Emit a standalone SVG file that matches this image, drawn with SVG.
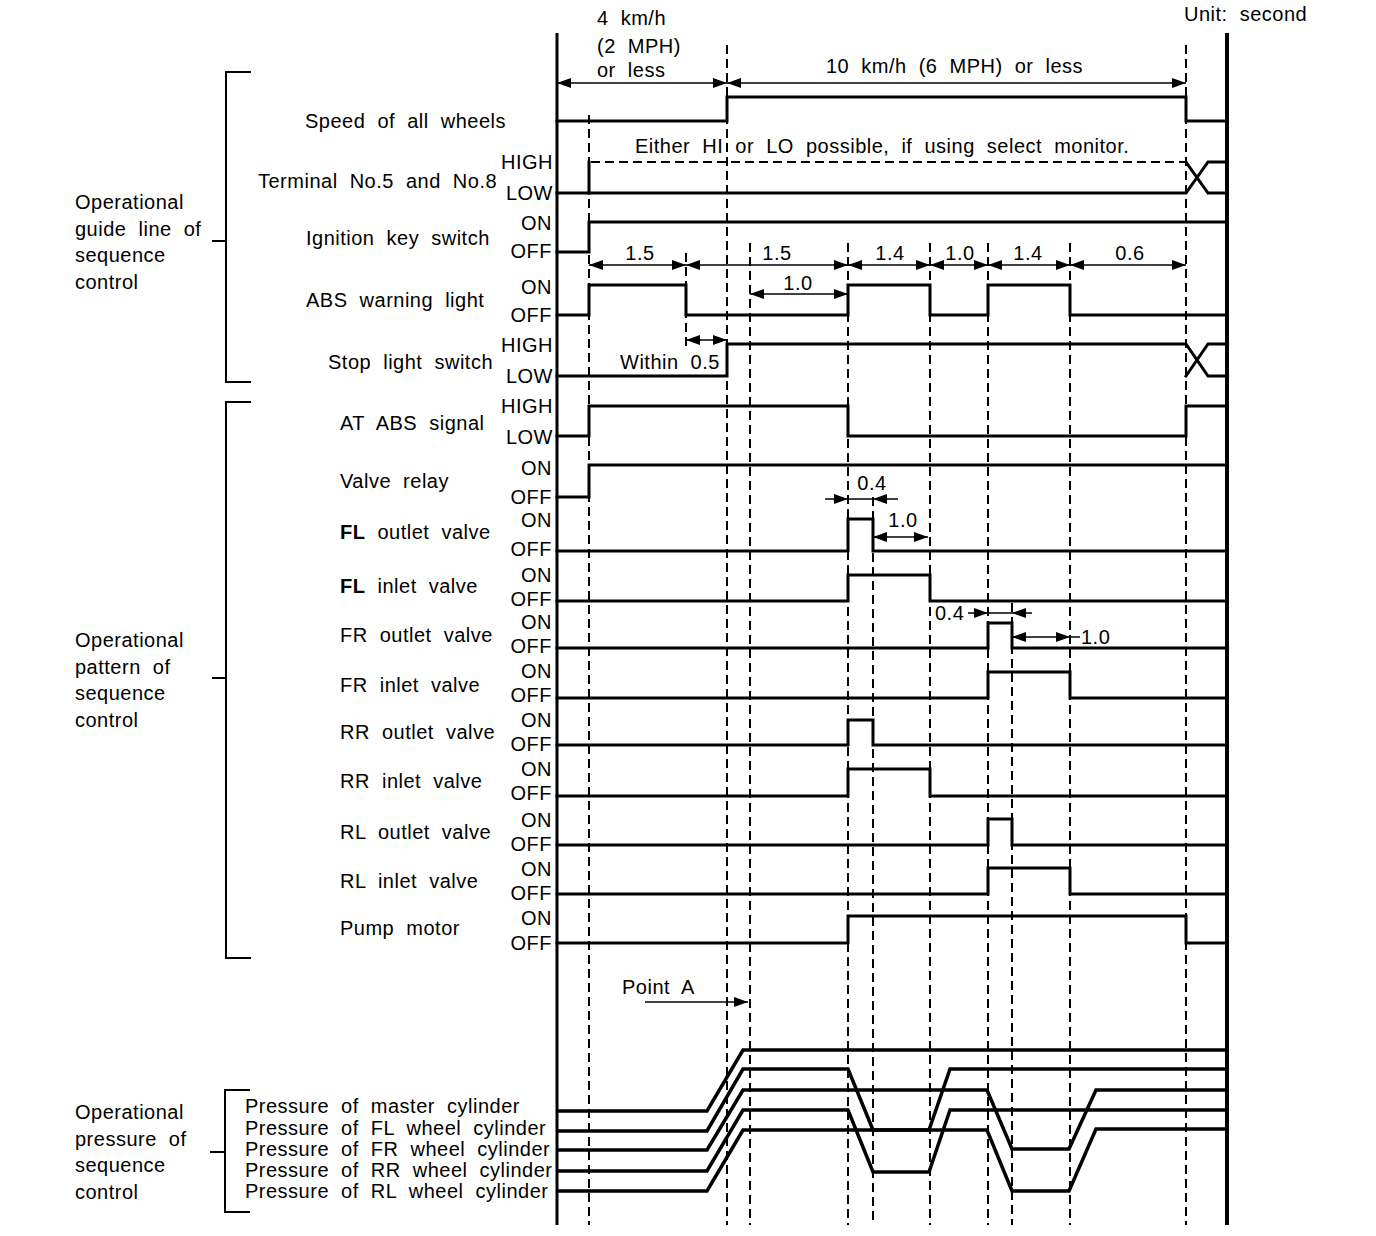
<svg xmlns="http://www.w3.org/2000/svg" width="1376" height="1236" viewBox="0 0 1376 1236">
<style>
.t{font-family:"Liberation Sans",Arial,Helvetica,sans-serif;font-size:20px;letter-spacing:0.5px;word-spacing:6px;fill:#000}
.e{text-anchor:end}
.b{font-weight:bold}
.sig{fill:none;stroke:#000;stroke-width:3;stroke-linejoin:miter;stroke-linecap:square}
.prs{fill:none;stroke:#000;stroke-width:3.5;stroke-linejoin:miter}
.dash{fill:none;stroke:#000;stroke-width:2;stroke-dasharray:9 5}
.dim{fill:none;stroke:#000;stroke-width:1.5}
.brk{fill:none;stroke:#000;stroke-width:2}
.axis{fill:none;stroke:#000}
</style>
<defs>
<marker id="ah" viewBox="0 0 14 10" refX="14" refY="5" markerWidth="14" markerHeight="10" markerUnits="userSpaceOnUse" orient="auto-start-reverse">
<path d="M0,0 L14,5 L0,10 z" fill="#000"/>
</marker>
</defs>
<rect width="1376" height="1236" fill="#fff"/>

<g id="frame">
<line class="axis" x1="557" y1="33" x2="557" y2="1225" stroke-width="3"/>
<line class="axis" x1="1227" y1="33" x2="1227" y2="1225" stroke-width="4"/>
<line class="dash" x1="589" y1="115" x2="589" y2="1225"/>
<line class="dash" x1="727" y1="45" x2="727" y2="1225"/>
<line class="dash" x1="750" y1="243" x2="750" y2="1225"/>
<line class="dash" x1="848" y1="243" x2="848" y2="1225"/>
<line class="dash" x1="873" y1="497" x2="873" y2="1225"/>
<line class="dash" x1="930" y1="243" x2="930" y2="1225"/>
<line class="dash" x1="988" y1="243" x2="988" y2="1225"/>
<line class="dash" x1="1012" y1="603" x2="1012" y2="1225"/>
<line class="dash" x1="1070" y1="243" x2="1070" y2="1225"/>
<line class="dash" x1="1186" y1="45" x2="1186" y2="1225"/>
<line class="dash" x1="686" y1="253" x2="686" y2="350"/>
<text class="t" x="1184" y="21">Unit: second</text>
</g>

<g id="group-guide">
<path class="brk" d="M251,72 H226 V382 H251 M212,241 H226"/>
<text class="t" x="75" y="209">Operational</text>
<text class="t" x="75" y="236">guide line of</text>
<text class="t" x="75" y="262">sequence</text>
<text class="t" x="75" y="289">control</text>
</g>

<g id="group-pattern">
<path class="brk" d="M251,402 H226 V958 H251 M212,678 H226"/>
<text class="t" x="75" y="647">Operational</text>
<text class="t" x="75" y="674">pattern of</text>
<text class="t" x="75" y="700">sequence</text>
<text class="t" x="75" y="727">control</text>
</g>

<g id="group-pressure">
<path class="brk" d="M250,1090 H225 V1212 H250 M210,1152 H225"/>
<text class="t" x="75" y="1119">Operational</text>
<text class="t" x="75" y="1146">pressure of</text>
<text class="t" x="75" y="1172">sequence</text>
<text class="t" x="75" y="1199">control</text>
</g>

<g id="speed">
<text class="t" x="305" y="128">Speed of all wheels</text>
<path class="sig" d="M557,121 H727 V97 H1186 V121 H1227"/>
<text class="t" x="597" y="25">4 km/h</text>
<text class="t" x="597" y="53">(2 MPH)</text>
<text class="t" x="597" y="77">or less</text>
<text class="t" x="826" y="73">10 km/h (6 MPH) or less</text>
</g>

<g id="terminal">
<text class="t" x="258" y="188">Terminal No.5 and No.8</text>
<text class="t e" x="553" y="169">HIGH</text>
<text class="t e" x="553" y="200">LOW</text>
<path class="sig" d="M557,193 H1186 L1208,162 H1227"/>
<path class="sig" d="M589,193 V162"/>
<path class="sig" d="M1186,162 L1208,193 H1227"/>
<line class="dash" x1="591" y1="162" x2="1186" y2="162"/>
<text class="t" x="635" y="153">Either HI or LO possible, if using select monitor.</text>
</g>

<g id="ignition">
<text class="t" x="306" y="245">Ignition key switch</text>
<text class="t e" x="552" y="230">ON</text>
<text class="t e" x="552" y="258">OFF</text>
<path class="sig" d="M557,252 H589 V222 H1227"/>
</g>

<g id="abs-warning">
<text class="t" x="306" y="307">ABS warning light</text>
<text class="t e" x="552" y="294">ON</text>
<text class="t e" x="552" y="322">OFF</text>
<path class="sig" d="M557,315 H589 V285 H686 V315 H848 V285 H930 V315 H988 V285 H1070 V315 H1227"/>
</g>

<g id="stop-light">
<text class="t" x="328" y="369">Stop light switch</text>
<text class="t e" x="553" y="352">HIGH</text>
<text class="t e" x="553" y="383">LOW</text>
<path class="sig" d="M557,376 H727 V344 H1186 L1208,376 H1227"/>
<path class="sig" d="M1186,376 L1208,344 H1227"/>
</g>

<g id="at-abs">
<text class="t" x="340" y="430">AT ABS signal</text>
<text class="t e" x="553" y="413">HIGH</text>
<text class="t e" x="553" y="444">LOW</text>
<path class="sig" d="M557,436 H589 V406 H848 V436 H1186 V406 H1227"/>
</g>

<g id="valve-relay">
<text class="t" x="340" y="488">Valve relay</text>
<text class="t e" x="552" y="475">ON</text>
<text class="t e" x="552" y="504">OFF</text>
<path class="sig" d="M557,497 H589 V465 H1227"/>
</g>

<g id="fl-outlet">
<text class="t" x="340" y="539"><tspan class="b">FL</tspan> outlet valve</text>
<text class="t e" x="552" y="527">ON</text>
<text class="t e" x="552" y="556">OFF</text>
<path class="sig" d="M557,551 H848 V519 H873 V551 H1227"/>
</g>

<g id="fl-inlet">
<text class="t" x="340" y="593"><tspan class="b">FL</tspan> inlet valve</text>
<text class="t e" x="552" y="582">ON</text>
<text class="t e" x="552" y="606">OFF</text>
<path class="sig" d="M557,601 H848 V575 H930 V601 H1227"/>
</g>

<g id="fr-outlet">
<text class="t" x="340" y="642">FR outlet valve</text>
<text class="t e" x="552" y="629">ON</text>
<text class="t e" x="552" y="653">OFF</text>
<path class="sig" d="M557,648 H988 V623 H1012 V648 H1227"/>
</g>

<g id="fr-inlet">
<text class="t" x="340" y="692">FR inlet valve</text>
<text class="t e" x="552" y="678">ON</text>
<text class="t e" x="552" y="702">OFF</text>
<path class="sig" d="M557,698 H988 V672 H1070 V698 H1227"/>
</g>

<g id="rr-outlet">
<text class="t" x="340" y="739">RR outlet valve</text>
<text class="t e" x="552" y="727">ON</text>
<text class="t e" x="552" y="751">OFF</text>
<path class="sig" d="M557,745 H848 V720 H873 V745 H1227"/>
</g>

<g id="rr-inlet">
<text class="t" x="340" y="788">RR inlet valve</text>
<text class="t e" x="552" y="776">ON</text>
<text class="t e" x="552" y="800">OFF</text>
<path class="sig" d="M557,796 H848 V769 H930 V796 H1227"/>
</g>

<g id="rl-outlet">
<text class="t" x="340" y="839">RL outlet valve</text>
<text class="t e" x="552" y="827">ON</text>
<text class="t e" x="552" y="851">OFF</text>
<path class="sig" d="M557,845 H988 V819 H1012 V845 H1227"/>
</g>

<g id="rl-inlet">
<text class="t" x="340" y="888">RL inlet valve</text>
<text class="t e" x="552" y="876">ON</text>
<text class="t e" x="552" y="900">OFF</text>
<path class="sig" d="M557,894 H988 V868 H1070 V894 H1227"/>
</g>

<g id="pump-motor">
<text class="t" x="340" y="935">Pump motor</text>
<text class="t e" x="552" y="925">ON</text>
<text class="t e" x="552" y="950">OFF</text>
<path class="sig" d="M557,943 H848 V916 H1186 V943 H1227"/>
</g>

<g id="pressures">
<text class="t" x="245" y="1113">Pressure of master cylinder</text>
<text class="t" x="245" y="1135">Pressure of FL wheel cylinder</text>
<text class="t" x="245" y="1156">Pressure of FR wheel cylinder</text>
<text class="t" x="245" y="1177">Pressure of RR wheel cylinder</text>
<text class="t" x="245" y="1198">Pressure of RL wheel cylinder</text>
<path class="prs" d="M557,1111 H707 L743,1050 H1227"/>
<path class="prs" d="M557,1131 H707 L743,1069 H848 L873,1130 H929 L950,1069 H1227"/>
<path class="prs" d="M557,1150 H707 L743,1090 H987 L1012,1149 H1069 L1096,1090 H1227"/>
<path class="prs" d="M557,1171 H707 L743,1110 H848 L873,1172 H929 L950,1110 H1227"/>
<path class="prs" d="M557,1191 H707 L743,1130 H987 L1012,1191 H1069 L1096,1129 H1227"/>
</g>

<g id="connectors">
<line class="dim" x1="557" y1="83" x2="727" y2="83" marker-start="url(#ah)" marker-end="url(#ah)"/>
<line class="dim" x1="727" y1="83" x2="1186" y2="83" marker-start="url(#ah)" marker-end="url(#ah)"/>

<line class="dim" x1="589" y1="265" x2="686" y2="265" marker-start="url(#ah)" marker-end="url(#ah)"/>
<line class="dim" x1="686" y1="265" x2="848" y2="265" marker-start="url(#ah)" marker-end="url(#ah)"/>
<line class="dim" x1="848" y1="265" x2="930" y2="265" marker-start="url(#ah)" marker-end="url(#ah)"/>
<line class="dim" x1="930" y1="265" x2="988" y2="265" marker-start="url(#ah)" marker-end="url(#ah)"/>
<line class="dim" x1="988" y1="265" x2="1070" y2="265" marker-start="url(#ah)" marker-end="url(#ah)"/>
<line class="dim" x1="1070" y1="265" x2="1186" y2="265" marker-start="url(#ah)" marker-end="url(#ah)"/>
<text class="t" x="640" y="260" text-anchor="middle">1.5</text>
<text class="t" x="777" y="260" text-anchor="middle">1.5</text>
<text class="t" x="890" y="260" text-anchor="middle">1.4</text>
<text class="t" x="960" y="260" text-anchor="middle">1.0</text>
<text class="t" x="1028" y="260" text-anchor="middle">1.4</text>
<text class="t" x="1130" y="260" text-anchor="middle">0.6</text>

<line class="dim" x1="750" y1="294" x2="848" y2="294" marker-start="url(#ah)" marker-end="url(#ah)"/>
<text class="t" x="798" y="290" text-anchor="middle">1.0</text>

<line class="dim" x1="686" y1="340" x2="727" y2="340" marker-start="url(#ah)" marker-end="url(#ah)"/>
<text class="t" x="620" y="369">Within 0.5</text>

<line class="dim" x1="825" y1="499" x2="848" y2="499" marker-end="url(#ah)"/>
<line class="dim" x1="848" y1="499" x2="873" y2="499"/>
<line class="dim" x1="898" y1="499" x2="873" y2="499" marker-end="url(#ah)"/>
<text class="t" x="872" y="490" text-anchor="middle">0.4</text>

<line class="dim" x1="873" y1="537" x2="928" y2="537" marker-start="url(#ah)" marker-end="url(#ah)"/>
<text class="t" x="903" y="527" text-anchor="middle">1.0</text>

<line class="dim" x1="968" y1="613" x2="988" y2="613" marker-end="url(#ah)"/>
<line class="dim" x1="988" y1="613" x2="1012" y2="613"/>
<line class="dim" x1="1032" y1="613" x2="1012" y2="613" marker-end="url(#ah)"/>
<text class="t" x="935" y="620">0.4</text>

<line class="dim" x1="1012" y1="637" x2="1070" y2="637" marker-start="url(#ah)" marker-end="url(#ah)"/>
<line class="dim" x1="1070" y1="637" x2="1080" y2="637"/>
<text class="t" x="1081" y="644">1.0</text>

<line class="dim" x1="645" y1="1002" x2="748" y2="1002" marker-end="url(#ah)"/>
<text class="t" x="622" y="994">Point A</text>
</g>
</svg>
